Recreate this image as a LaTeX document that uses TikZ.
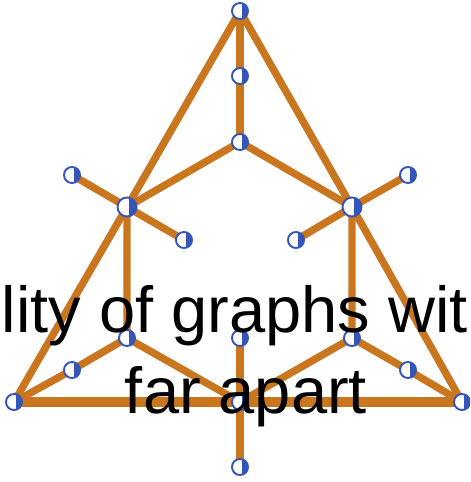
\documentclass[tikz,border=0pt]{standalone}
\usepackage{fontspec}
\newfontfamily\labelfont{Liberation Sans}
\usepackage{tikz}
\usetikzlibrary{arrows.meta, positioning, calc, backgrounds}
\definecolor{EdgeOrange}{HTML}{C9761F}
\definecolor{NodeBlue}{HTML}{3556B8}
\tikzset{
  vtx/.style={circle, draw=NodeBlue, line width=1.1pt, fill=white, minimum size=0.32cm, inner sep=0pt,
    path picture={\fill[NodeBlue] ([xshift=0.045cm]path picture bounding box.south) rectangle (path picture bounding box.north east);}},
  hub/.style={vtx, minimum size=0.38cm},
  edge/.style={EdgeOrange, line width=4.2pt},
  base/.style={EdgeOrange, line width=5.5pt}
}
\begin{document}
\begin{tikzpicture}[x=0.02cm, y=-0.02cm]
  \useasboundingbox (0,0) rectangle (470,482);
  \clip (0,0) rectangle (470,482);
  % vertices
  \node[vtx] (top) at (240,11) {};
  \node[vtx] (upper) at (240,76) {};
  \node[vtx] (center) at (240,142) {};
  \node[hub] (hubL) at (127,207) {};
  \node[hub] (hubR) at (352,207) {};
  \node[vtx] (leafLL) at (72,175) {};
  \node[vtx] (leafLR) at (184,240) {};
  \node[vtx] (leafRL) at (296,240) {};
  \node[vtx] (leafRR) at (408,175) {};
  \node[vtx] (midL) at (127,338) {};
  \node[vtx] (midR) at (352,338) {};
  \node[vtx] (sideL) at (72,370) {};
  \node[vtx] (sideR) at (408,370) {};
  \node[vtx] (cornerL) at (14,402) {};
  \node[vtx] (cornerR) at (462,402) {};
  \node[vtx] (stemA) at (240,338) {};
  \node[vtx] (stemB) at (240,402) {};
  \node[vtx] (stemC) at (240,467) {};
  % edges
  \begin{scope}[on background layer]
    \draw[base] (cornerL.center) -- (stemB.center) -- (cornerR.center);
    \draw[edge] (top.center) -- (upper.center) -- (center.center);
    \draw[edge] (hubL.center) -- (center.center) -- (hubR.center);
    \draw[edge] (cornerL.center) -- (hubL.center) -- (top.center) -- (hubR.center) -- (cornerR.center);
    \draw[edge] (leafLL.center) -- (hubL.center) -- (leafLR.center);
    \draw[edge] (leafRR.center) -- (hubR.center) -- (leafRL.center);
    \draw[edge] (hubL.center) -- (midL.center) -- (sideL.center) -- (cornerL.center);
    \draw[edge] (hubR.center) -- (midR.center) -- (sideR.center) -- (cornerR.center);
    \draw[edge] (midL.center) -- (stemB.center) -- (midR.center);
    \draw[edge] (stemA.center) -- (stemB.center) -- (stemC.center);
  \end{scope}
  % caption
  \node[font=\labelfont\fontsize{37}{46}\selectfont, anchor=base, inner sep=0pt] (capA) at (235,332) {lity of graphs wit};
  \node[font=\labelfont\fontsize{37}{46}\selectfont, anchor=base, inner sep=0pt] (capB) at (246,413) {far apart};
\end{tikzpicture}
\end{document}
